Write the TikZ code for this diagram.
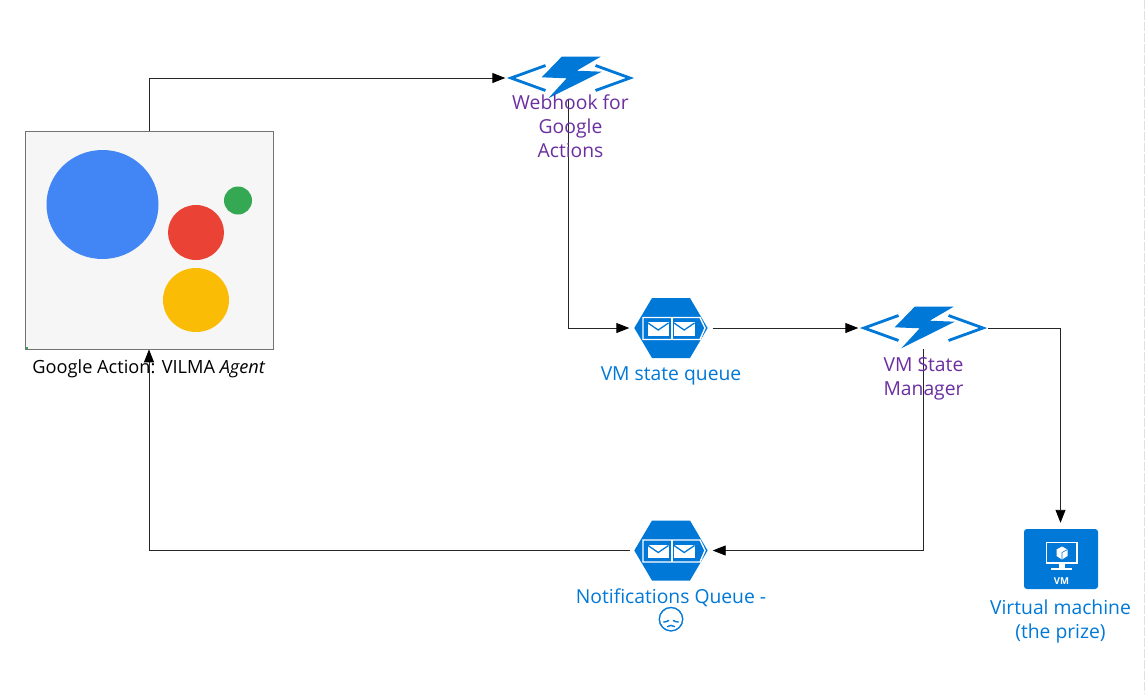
\documentclass[tikz,border=0pt]{standalone}
\usepackage{fontspec}
\setmainfont{Open Sans}
\newfontfamily\emojifont[FakeBold=1.6]{Noto Emoji}
\usetikzlibrary{arrows.meta,backgrounds}
\definecolor{azure}{HTML}{0078D7}
\definecolor{purp}{HTML}{6B2FA0}
\definecolor{agentbg}{HTML}{F6F6F7}
\definecolor{gblue}{HTML}{4285F4}
\definecolor{gred}{HTML}{EA4335}
\definecolor{ggreen}{HTML}{34A853}
\definecolor{gyellow}{HTML}{FBBC05}
\tikzset{
  link/.style={draw=black!85,line width=0.9pt,-{Triangle[length=13pt,width=10pt,black]}},
  agentbox/.style={draw=black!55,line width=0.8pt,fill=agentbg,minimum width=248pt,minimum height=218pt,inner sep=0pt},
  fnicon/.style={minimum width=128pt,minimum height=42pt,inner sep=0pt},
  queueicon/.style={minimum width=73pt,minimum height=60pt,inner sep=0pt},
  vmicon/.style={fill=azure,rounded corners=3pt,minimum width=74pt,minimum height=60pt,inner sep=0pt},
  fnlabel/.style={text=purp,align=center,inner sep=0pt,font=\fontsize{19.3}{24}\selectfont},
  bluelabel/.style={text=azure,align=center,inner sep=0pt,font=\fontsize{19.3}{24}\selectfont},
  agentlabel/.style={text=black,inner sep=0pt,font=\fontsize{18.2}{20}\selectfont},
}
\newcommand{\fnshape}[1]{%
  \begin{scope}[shift={(#1)}]
    \draw[azure,line width=2.8pt,miter limit=10] (-25,-12.5) -- (-59.5,0) -- (-25,12.5);
    \draw[azure,line width=2.8pt,miter limit=10] (25,-12.5) -- (59.5,0) -- (25,12.5);
    \fill[azure] (-8.8,-21.3) -- (30.2,-21.3) -- (6.2,-7.3) -- (31.2,-6.3) -- (-22.2,20.3) -- (-3.8,0.3) -- (-28.8,-0.7) -- cycle;
  \end{scope}}
\newcommand{\qshape}[1]{%
  \begin{scope}[shift={(#1)}]
    \fill[azure] (-36.7,0) -- (-19,-30) -- (19,-30) -- (36.6,0) -- (19,30) -- (-19,30) -- cycle;
    \draw[white,line width=1.4pt] (-28,-10.5) -- (29,-10.5) -- (34,0) -- (29,11.5) -- (-28,11.5) -- cycle;
    \draw[white,line width=1.4pt] (1,-10.5) -- (1,11.5);
    \foreach \dx in {-23,3} {
      \fill[white] (\dx,-6) rectangle ++(20.5,13.5);
      \draw[azure,line width=1.3pt] (\dx,-5) -- ++(10.2,7) -- ++(10.3,-7);
    }
  \end{scope}}
\begin{document}
\begin{tikzpicture}[x=1pt,y=-1pt]
\useasboundingbox (0,0) rectangle (1148,694);
\coordinate (edgetop) at (1144.5,0);
\coordinate (edgebot) at (1144.5,694);
\draw[black!12,line width=0.8pt,dash pattern=on 9pt off 2pt] (edgetop) -- (edgebot);

% agent
\node[agentbox] (agent) at (149,240) {};
\fill[gblue] (102.5,204.5) ellipse [x radius=56,y radius=54.5];
\fill[gred] (196,232.5) ellipse [x radius=28,y radius=27.5];
\fill[ggreen] (238,200.5) circle [radius=14];
\fill[gyellow] (196,300) ellipse [x radius=33,y radius=32];
\fill[ggreen] (25.5,346.5) rectangle (27.5,349);
\node[agentlabel] (agenttext) at (149,368.5) {Google Action: VILMA \textit{Agent}};

% webhook
\node[fnicon] (web) at (570.5,78) {};
\fnshape{570.5,78}
\node[fnlabel] (webtext) at (570.5,126) {Webhook for\\Google\\Actions};

% state queue
\node[queueicon] (vmq) at (671,328) {};
\qshape{671,328}
\node[bluelabel] (vmqtext) at (671,375.5) {VM state queue};

% manager
\node[fnicon] (mgr) at (923.5,328) {};
\fnshape{923.5,328}
\node[fnlabel] (mgrtext) at (923.5,378.5) {VM State\\Manager};

% notifications queue
\node[queueicon] (nq) at (671,550.5) {};
\qshape{671,550.5}
\node[bluelabel] (nqtext) at (671,610) {Notifications Queue -\\{\emojifont\fontsize{24}{24}\selectfont 😞}};

% vm
\node[vmicon] (vm) at (1061,559) {};
\draw[white,line width=1.3pt] (1046.5,542.5) rectangle (1077,563);
\fill[white] (1058.5,563) rectangle (1065,568);
\fill[white] (1051,568) rectangle (1072,569.5);
\fill[white] (1062,546.5) -- (1067.5,549.5) -- (1067.5,556) -- (1062,559.5) -- (1056.5,556) -- (1056.5,549.5) -- cycle;
\draw[azure,line width=0.6pt] (1062,552.5) -- (1062,559.5) (1062,552.5) -- (1067.5,549.5);
\node[text=white,inner sep=0pt,font=\bfseries\fontsize{9.5}{10}\selectfont] (vmtag) at (1061.5,581.5) {VM};
\node[bluelabel] (vmtext) at (1060.5,621.5) {Virtual machine\\(the prize)};

% connectors
\begin{scope}[on background layer]
\fill[white] (0,0) rectangle (1148,694);
\draw[link] (agent.north) |- ([xshift=-1pt]web.west);
\draw[link,shorten >=5pt] ([xshift=-2.5pt]web.south) |- (vmq.west);
\draw[link] ([xshift=5pt]vmq.east) -- ([xshift=-1pt]mgr.west);
\draw[link] (mgr.east) -| ([xshift=-0.5pt,yshift=6pt]vm.north);
\draw[link,shorten >=5pt] (mgr.south) |- (nq.east);
\draw[link] ([xshift=-4pt]nq.west) -| (agent.south);
\end{scope}
\end{tikzpicture}
\end{document}
